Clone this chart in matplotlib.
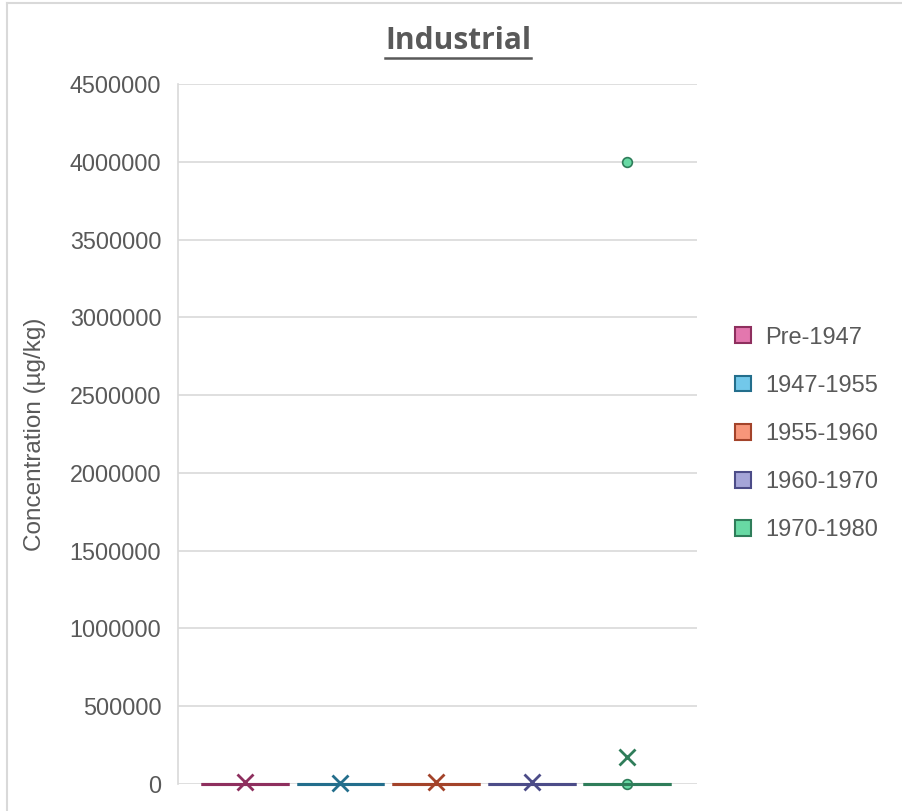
import matplotlib
matplotlib.use('Agg')
import matplotlib.pyplot as plt
from matplotlib.patches import Patch
from matplotlib.lines import Line2D

plt.rcParams['font.family'] = ['Liberation Sans', 'DejaVu Sans']

SERIES = ['Pre-1947', '1947-1955', '1955-1960', '1960-1970', '1970-1980']
FILLS = ['#E377AE', '#72C8EA', '#F7967A', '#A5A5D8', '#68D9A4']
EDGES = ['#8E2F5E', '#236E8C', '#A3432A', '#4C4C88', '#2F7D5A']

# box stats (all quartiles collapse to 0)
Q1 = [0, 0, 0, 0, 0]
MED = [0, 0, 0, 0, 0]
Q3 = [0, 0, 0, 0, 0]
WLO = [0, 0, 0, 0, 0]
WHI = [0, 0, 0, 0, 0]
MEANS = [12000, 9000, 11000, 10000, 175000]
FLIERS = [[], [], [], [], [0, 4000000]]

YTICKS = [0, 500000, 1000000, 1500000, 2000000, 2500000, 3000000, 3500000, 4000000, 4500000]

fig = plt.figure(figsize=(9.02, 8.11), dpi=100)
ax = fig.add_axes([178 / 902, 27 / 811, 519 / 902, 700 / 811])

for i, name in enumerate(SERIES):
  stats = [{'med': MED[i], 'q1': Q1[i], 'q3': Q3[i], 'whislo': WLO[i],
            'whishi': WHI[i], 'mean': MEANS[i], 'fliers': FLIERS[i]}]
  parts = ax.bxp(stats, positions=[i], widths=0.92, patch_artist=True, showmeans=True,
                 showcaps=False,
                 boxprops=dict(facecolor=FILLS[i], edgecolor=EDGES[i], linewidth=2.2),
                 medianprops=dict(color=EDGES[i], linewidth=2.2),
                 whiskerprops=dict(color=EDGES[i], linewidth=2.2),
                 meanprops=dict(marker='x', markeredgecolor=EDGES[i], markersize=11,
                                markeredgewidth=2.0),
                 flierprops=dict(marker='o', markerfacecolor=FILLS[i],
                                 markeredgecolor=EDGES[i], markersize=7, markeredgewidth=1.2))
  for arts in parts.values():
    for a in arts:
      a.set_clip_on(False)

ax.set_xlim(-0.70, 4.73)
ax.set_ylim(0, 4500000)
ax.set_yticks(YTICKS)
ax.set_yticklabels([str(v) for v in YTICKS])
ax.set_xticks([])
ax.grid(axis='y', color='#D9D9D9', linewidth=1.2)
ax.set_axisbelow(True)
for s in ['top', 'right', 'bottom']:
  ax.spines[s].set_visible(False)
ax.spines['left'].set_color('#D9D9D9')
ax.spines['left'].set_linewidth(1.2)
ax.tick_params(axis='y', length=0, pad=12, labelsize=16.8, labelcolor='#595959')

fig.text(35 / 902, 1 - 434 / 811, 'Concentration (\u00b5g/kg)', rotation=90,
         ha='center', va='center', fontsize=17.5, color='#595959')

title = fig.text(458 / 902, 1 - 41 / 811, 'Industrial', ha='center', va='center',
                 fontsize=21.5, fontweight='bold', color='#595959',
                 family=['Open Sans', 'DejaVu Sans'])

handles = [Patch(facecolor=FILLS[i], edgecolor=EDGES[i], linewidth=1.5) for i in range(5)]
fig.legend(handles, SERIES, loc='center left', bbox_to_anchor=(714 / 902, 1 - 434 / 811),
           frameon=False, fontsize=17, labelcolor='#595959', handlelength=0.65,
           handleheight=0.65, handletextpad=0.6, labelspacing=1.11)

# chart border (left and top edges visible)
fig.add_artist(Line2D([7.5 / 902, 7.5 / 902], [0, 1 - 2.5 / 811], color='#D9D9D9', linewidth=1.5))
fig.add_artist(Line2D([7.5 / 902, 1], [1 - 2.5 / 811, 1 - 2.5 / 811], color='#D9D9D9', linewidth=1.5))

# underline the title
fig.canvas.draw()
bb = title.get_window_extent().transformed(fig.transFigure.inverted())
fig.add_artist(Line2D([bb.x0, bb.x1], [bb.y0 - 0.002, bb.y0 - 0.002], color='#595959', linewidth=1.8))

fig.savefig('out.png', dpi=100)
